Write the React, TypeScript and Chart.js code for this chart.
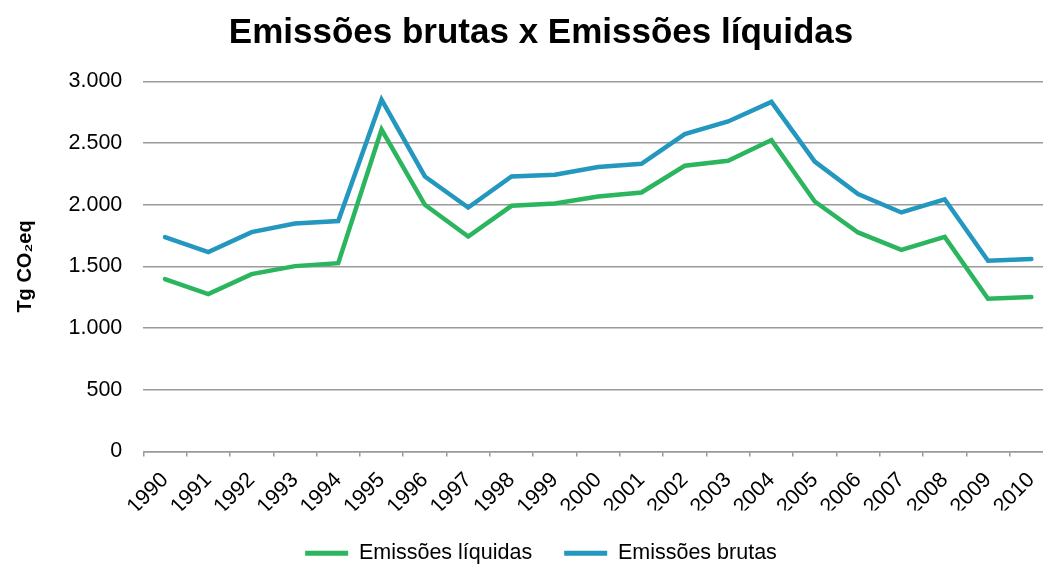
import React, { useEffect, useRef } from 'react';
import { Chart, registerables } from 'chart.js';

Chart.register(...registerables);

const years = ['1990', '1991', '1992', '1993', '1994', '1995', '1996', '1997', '1998', '1999', '2000', '2001', '2002', '2003', '2004', '2005', '2006', '2007', '2008', '2009', '2010'];
const emissoesLiquidas = [1398, 1276, 1438, 1503, 1527, 2610, 2000, 1743, 1992, 2011, 2068, 2100, 2317, 2357, 2525, 2027, 1776, 1635, 1740, 1238, 1252];
const emissoesBrutas = [1738, 1617, 1779, 1849, 1868, 2852, 2230, 1978, 2230, 2244, 2306, 2333, 2573, 2676, 2835, 2351, 2087, 1938, 2045, 1546, 1560];
const yMin = 0;
const yMax = 3000;
const yStep = 500;

const GREEN = '#2BB55F';
const BLUE = '#2397BE';
const GRID = '#9a9a9a';
const FAMILY = '"Liberation Sans", Arial, Helvetica, sans-serif';

function fmt(v: number): string {
  if (v >= 1000) {
    const t = Math.floor(v / 1000);
    const r = v % 1000;
    return t + '.' + String(r).padStart(3, '0');
  }
  return String(v);
}

export default function App() {
  const ref = useRef<HTMLCanvasElement | null>(null);

  useEffect(() => {
    const canvas = ref.current;
    if (!canvas) return;
    const chart = new Chart(canvas, {
      type: 'line',
      data: {
        labels: years,
        datasets: [
          {
            label: 'Emissões líquidas',
            data: emissoesLiquidas,
            borderColor: GREEN,
            backgroundColor: GREEN,
            borderWidth: 4.5,
            pointRadius: 0,
            pointHoverRadius: 0,
            tension: 0,
            borderCapStyle: 'round',
            fill: false,
          },
          {
            label: 'Emissões brutas',
            data: emissoesBrutas,
            borderColor: BLUE,
            backgroundColor: BLUE,
            borderWidth: 4.5,
            pointRadius: 0,
            pointHoverRadius: 0,
            tension: 0,
            borderCapStyle: 'round',
            fill: false,
          },
        ],
      },
      options: {
        responsive: false,
        animation: false,
        devicePixelRatio: 1,
        layout: { padding: 0 },
        plugins: {
          title: {
            display: true,
            text: 'Emissões brutas x Emissões líquidas',
            color: '#000',
            font: { family: FAMILY, size: 35, weight: 'bold', lineHeight: 1.2 },
            padding: { top: 12.5, bottom: 27 },
          },
          legend: {
            position: 'bottom',
            labels: {
              font: { family: FAMILY, size: 21.5 },
              color: '#000',
              boxWidth: 43,
              boxHeight: 5,
              padding: 32,
              generateLabels: (c: any) =>
                (Chart.defaults.plugins.legend.labels as any)
                  .generateLabels(c)
                  .map((l: any) => ({ ...l, lineWidth: 0, fillStyle: l.strokeStyle })),
            },
          },
          tooltip: { enabled: false },
        },
        scales: {
          x: {
            type: 'category',
            offset: true,
            grid: {
              offset: true,
              drawOnChartArea: false,
              drawTicks: true,
              tickLength: 5,
              color: GRID,
              lineWidth: 1.5,
            },
            border: { display: true, color: GRID, width: 1.5 },
            ticks: {
              autoSkip: false,
              minRotation: 45,
              maxRotation: 45,
              color: '#000',
              font: { family: FAMILY, size: 21.5 },
              padding: 11,
            },
            afterFit: (s: any) => {
              s.height = 59;
            },
          },
          y: {
            min: yMin,
            max: yMax,
            ticks: {
              stepSize: yStep,
              color: '#000',
              font: { family: FAMILY, size: 21.5 },
              padding: 21,
              callback: (v: any) => fmt(Number(v)),
            },
            grid: { color: GRID, lineWidth: 1.5, drawTicks: false },
            border: { display: false },
            title: {
              display: true,
              text: 'Tg CO₂eq',
              color: '#000',
              font: { family: FAMILY, size: 20, weight: 'bold' },
              padding: { top: 13, bottom: 0 },
            },
            afterFit: (s: any) => {
              s.width = 143.3;
            },
          },
          yRight: {
            type: 'linear',
            position: 'right',
            display: true,
            grid: { display: false },
            border: { display: false },
            ticks: { display: false },
            afterFit: (s: any) => {
              s.width = 29;
            },
          },
        },
      } as any,
    });
    return () => chart.destroy();
  }, []);

  return (
    <div
      style={{
        position: 'absolute',
        left: 0,
        top: 0,
        width: 1043,
        height: 565,
        overflow: 'hidden',
        background: '#fff',
      }}
    >
      <canvas ref={ref} width={1082} height={574} style={{ display: 'block' }} />
    </div>
  );
}
